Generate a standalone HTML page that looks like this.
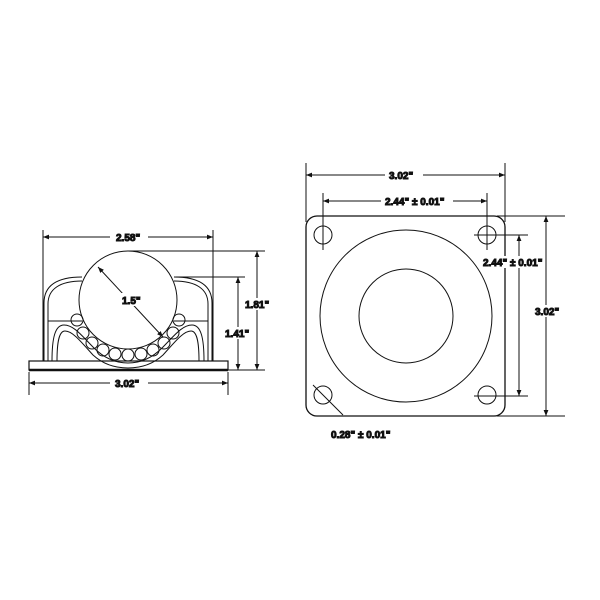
<!DOCTYPE html>
<html><head><style>body{margin:0;background:#fff}svg{display:block}text{font-family:"Liberation Sans",sans-serif;font-size:10px;font-weight:bold;fill:#111}</style></head>
<body>
<svg width="600" height="600" viewBox="0 0 600 600" fill="none" stroke="#111" stroke-width="1">
<defs><marker id="a" viewBox="0 0 10 10" refX="10" refY="5" markerWidth="6" markerHeight="6" orient="auto-start-reverse"><path d="M0,1L10,5L0,9z" fill="#111" stroke="none"/></marker></defs>
<!-- LEFT VIEW -->
<rect x="29" y="361" width="199" height="9" stroke-width="1.2"/>
<line x1="29" y1="370" x2="228" y2="370" stroke-width="2.5"/>
<!-- housing -->
<path d="M44,361 L44,303 C44,285 58,277 82,277 M48,361 L48,304 C48,289 60,281 82,281"/>
<path d="M212,361 L212,303 C212,285 198,277 174,277 M208,361 L208,304 C208,289 196,281 174,281"/>
<line x1="48" y1="321" x2="82" y2="321"/><line x1="208" y1="321" x2="174" y2="321"/>
<path d="M52,361 C52,338 55,325 64,325 C74,325 82,336 94,348 C106,360 118,363 128,363 C138,363 150,360 162,348 C174,336 182,325 192,325 C201,325 204,338 204,361"/>
<path d="M57,361 C57,342 59,331 65,331 C73,331 82,343 93,355 C105,366 118,368 128,368 C138,368 151,366 163,355 C174,343 183,331 191,331 C197,331 199,342 199,361"/>
<circle cx="128" cy="300" r="49" fill="#fff"/>
<g>
<circle cx="77" cy="320" r="6"/><circle cx="83" cy="333" r="6"/><circle cx="92" cy="343" r="6"/><circle cx="103" cy="350" r="6"/><circle cx="115" cy="354" r="6"/><circle cx="128" cy="355" r="6"/><circle cx="141" cy="354" r="6"/><circle cx="153" cy="350" r="6"/><circle cx="164" cy="343" r="6"/><circle cx="173" cy="333" r="6"/><circle cx="179" cy="320" r="6"/>
</g>
<line x1="98" y1="267" x2="163" y2="337" marker-start="url(#a)" marker-end="url(#a)"/>
<rect x="118" y="293" width="24" height="13" fill="#fff" stroke="none"/>
<text x="122" y="304">1.5"</text>
<!-- dims left -->
<line x1="43" y1="230" x2="43" y2="361"/><line x1="213" y1="230" x2="213" y2="361"/>
<line x1="43" y1="237" x2="213" y2="237" marker-start="url(#a)" marker-end="url(#a)"/>
<rect x="110" y="231" width="38" height="12" fill="#fff" stroke="none"/>
<text x="116" y="241">2.58"</text>
<line x1="128" y1="251" x2="265" y2="251"/><line x1="176" y1="277" x2="245" y2="277"/>
<line x1="228" y1="370" x2="265" y2="370"/>
<line x1="257" y1="251" x2="257" y2="370" marker-start="url(#a)" marker-end="url(#a)"/>
<line x1="238" y1="277" x2="238" y2="370" marker-start="url(#a)" marker-end="url(#a)"/>
<rect x="244" y="298" width="26" height="12" fill="#fff" stroke="none"/><text x="245" y="308">1.81"</text>
<rect x="224" y="327" width="26" height="12" fill="#fff" stroke="none"/><text x="225" y="337">1.41"</text>
<line x1="29" y1="372" x2="29" y2="395"/><line x1="228" y1="372" x2="228" y2="395"/>
<line x1="29" y1="383" x2="228" y2="383" marker-start="url(#a)" marker-end="url(#a)"/>
<rect x="110" y="377" width="38" height="12" fill="#fff" stroke="none"/><text x="115" y="387">3.02"</text>
<!-- RIGHT VIEW -->
<rect x="306" y="216" width="199" height="200" rx="11" stroke-width="1.3"/>
<circle cx="406" cy="316" r="86"/><circle cx="406" cy="316" r="47"/>
<circle cx="323" cy="235" r="9"/><circle cx="487" cy="235" r="9"/><circle cx="323" cy="395" r="9"/><circle cx="487" cy="395" r="9"/>
<line x1="306" y1="163" x2="306" y2="222"/><line x1="505" y1="163" x2="505" y2="222"/>
<line x1="306" y1="175" x2="505" y2="175" marker-start="url(#a)" marker-end="url(#a)"/>
<rect x="385" y="169" width="38" height="12" fill="#fff" stroke="none"/><text x="389" y="179">3.02"</text>
<line x1="323" y1="193" x2="323" y2="250"/><line x1="487" y1="193" x2="487" y2="250"/>
<line x1="323" y1="201" x2="487" y2="201" marker-start="url(#a)" marker-end="url(#a)"/>
<rect x="381" y="195" width="72" height="12" fill="#fff" stroke="none"/><text x="385" y="205">2.44" ± 0.01"</text>
<line x1="497" y1="216" x2="565" y2="216"/><line x1="497" y1="416" x2="565" y2="416"/>
<line x1="546" y1="216" x2="546" y2="416" marker-start="url(#a)" marker-end="url(#a)"/>
<rect x="534" y="305" width="28" height="12" fill="#fff" stroke="none"/><text x="535" y="315">3.02"</text>
<line x1="474" y1="235" x2="528" y2="235"/><line x1="474" y1="396" x2="528" y2="396"/>
<line x1="519" y1="235" x2="519" y2="396" marker-start="url(#a)" marker-end="url(#a)"/>
<rect x="482" y="256" width="62" height="12" fill="#fff" stroke="none"/><text x="483" y="266">2.44" ± 0.01"</text>
<line x1="313" y1="385" x2="343" y2="415"/>
<text x="331" y="438">0.28" ± 0.01"</text>
</svg>
</body></html>
